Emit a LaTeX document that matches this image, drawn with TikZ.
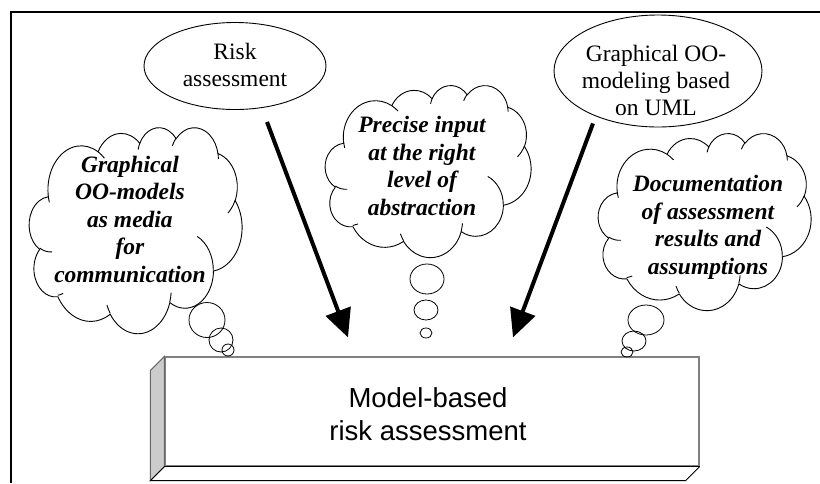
\documentclass[tikz,border=0pt]{standalone}
\usepackage{fontspec}
\setmainfont{Liberation Serif}
\setsansfont{Liberation Sans}
\usetikzlibrary{shapes.geometric,arrows.meta,calc}
\tikzset{cloudline/.style={line width=0.9pt, line join=round}}
% PowerPoint-style cloud, drawn in a 43.2 x 43.2 box whose top left corner is (#1,#2) px,
% scaled by #3 (x) and #4 (y) pt per unit
\newcommand{\pptcloud}[4]{%
\begin{scope}[shift={(#1pt,-#2pt)},x=#3pt,y=-#4pt]
\filldraw[cloudline, fill=white] (3.9,14.37)
  arc[start angle=-187.74, delta angle=128.10, x radius=6.753, y radius=9.19]
  arc[start angle=-152.05, delta angle=106.64, x radius=5.333, y radius=7.267]
  arc[start angle=-153.50, delta angle=116.18, x radius=4.365, y radius=5.945]
  arc[start angle=-139.72, delta angle=129.51, x radius=4.857, y radius=6.595]
  arc[start angle=-74.77, delta angle=97.98, x radius=5.333, y radius=7.273]
  arc[start angle=-37.52, delta angle=119.38, x radius=6.775, y radius=9.22]
  arc[start angle=0.46, delta angle=121.52, x radius=5.785, y radius=7.867]
  arc[start angle=16.84, delta angle=129.37, x radius=6.752, y radius=9.215]
  arc[start angle=58.99, delta angle=90.47, x radius=7.72, y radius=10.543]
  arc[start angle=-276.69, delta angle=139.79, x radius=4.36, y radius=5.918]
  arc[start angle=-239.65, delta angle=143.76, x radius=4.345, y radius=5.945]
  -- cycle;
\draw[cloudline]
  (4.693,26.177) arc[start angle=85.55, delta angle=34.80, x radius=4.345, y radius=5.945]
  (6.928,34.899) arc[start angle=68.24, delta angle=15.07, x radius=4.36, y radius=5.918]
  (16.478,39.09) arc[start angle=146.21, delta angle=12.26, x radius=6.752, y radius=9.215]
  (28.827,34.751) arc[start angle=4.74, delta angle=12.10, x radius=6.752, y radius=9.215]
  (34.129,22.954) arc[start angle=-64.02, delta angle=64.48, x radius=5.785, y radius=7.867]
  (41.798,15.354) arc[start angle=23.21, delta angle=26.43, x radius=5.333, y radius=7.273]
  (38.324,5.426) arc[start angle=-10.21, delta angle=11.03, x radius=4.857, y radius=6.595]
  (29.078,3.952) arc[start angle=-156.27, delta angle=16.55, x radius=4.857, y radius=6.595]
  (22.141,4.72) arc[start angle=-167.73, delta angle=14.23, x radius=4.365, y radius=5.945]
  (14.0,5.192) arc[start angle=-59.64, delta angle=13.94, x radius=6.753, y radius=9.19]
  (4.127,15.789) arc[start angle=163.20, delta angle=9.06, x radius=6.753, y radius=9.19];
\end{scope}}
\begin{document}
\begin{tikzpicture}[x=1pt,y=-1pt,
  oval/.style={ellipse, draw, line width=0.9pt, fill=white, inner sep=0pt},
  plain/.style={align=center, font=\fontsize{23.5}{27}\selectfont, inner sep=0pt},
  thoughttext/.style={align=center, font=\fontsize{23.5}{27.5}\selectfont\bfseries\itshape, inner sep=0pt},
  bubble/.style={ellipse, draw, line width=0.8pt, inner sep=0pt},
  bigarrow/.style={line width=4pt, -{Triangle[length=28pt,width=26pt]}},
  boxtext/.style={align=center, font=\sffamily\fontsize{27.5}{33}\selectfont}
]
\useasboundingbox (0,0) rectangle (820,483);
% frame
\coordinate (fbl) at (11,483);
\coordinate (ftl) at (11,12);
\coordinate (ftr) at (820,12);
\draw[line width=2pt] (fbl) -- (ftl) -- (ftr);

% box
\node[draw=black!50, line width=1.2pt, fill=white, minimum width=534pt, minimum height=109pt, inner sep=0pt] (box) at (432,411.5) {};
\node[boxtext] (boxt) at (428,414) {Model-based\\risk assessment};
\filldraw[fill=black!20, draw=black!60, line width=1pt] (box.north west) -- ++(-14,14) -- ($(box.south west)+(-14,14)$) -- (box.south west) -- cycle;
\draw[line width=1pt] (box.south west) -- ++(-14,14) -- ($(box.south east)+(-14,14)$) -- (box.south east);
\draw[line width=1.2pt] (box.south west) -- (box.south east);

% ellipses
\node[oval, minimum width=182pt, minimum height=87pt] (risk) at (235,66) {};
\node[plain] (riskt) at (235,65) {Risk\\assessment};
\node[oval, minimum width=208pt, minimum height=112pt] (uml) at (658,71) {};
\node[plain] (umlt) at (656,80) {Graphical OO-\\modeling based\\on UML};

% clouds
\pptcloud{29}{127}{4.9306}{4.7685}
\node[thoughttext] (c1t) at (130,219) {Graphical\\OO-models\\as media\\for\\communication};
\pptcloud{325}{85}{4.7685}{3.9815}
\node[thoughttext] (c2t) at (422,166) {Precise input\\at the right\\level of\\abstraction};
\pptcloud{598}{133}{4.9306}{4.0972}
\node[thoughttext] (c3t) at (708,227.5) {Documentation\\of assessment\\results and\\assumptions};

% bubbles
\node[bubble, minimum width=36pt, minimum height=35pt] (l1) at (207,320) {};
\node[bubble, minimum width=24pt, minimum height=24pt] (l2) at (221,340) {};
\node[bubble, minimum width=12pt, minimum height=12pt] (l3) at (228,350) {};
\node[bubble, minimum width=34pt, minimum height=30pt] (m1) at (427,279) {};
\node[bubble, minimum width=24pt, minimum height=20pt] (m2) at (426,310) {};
\node[bubble, minimum width=12pt, minimum height=10pt] (m3) at (426,333) {};
\node[bubble, minimum width=36pt, minimum height=30pt] (r1) at (646,320) {};
\node[bubble, minimum width=24pt, minimum height=20pt] (r2) at (634,341) {};
\node[bubble, minimum width=12pt, minimum height=10pt] (r3) at (627,352) {};

% arrows
\draw[bigarrow] ([xshift=32pt,yshift=-12pt]risk.south) -- ([xshift=-84pt,yshift=19pt]box.north);
\draw[bigarrow] ([xshift=-65pt,yshift=4pt]uml.south) -- ([xshift=81pt,yshift=19pt]box.north);
\end{tikzpicture}
\end{document}
